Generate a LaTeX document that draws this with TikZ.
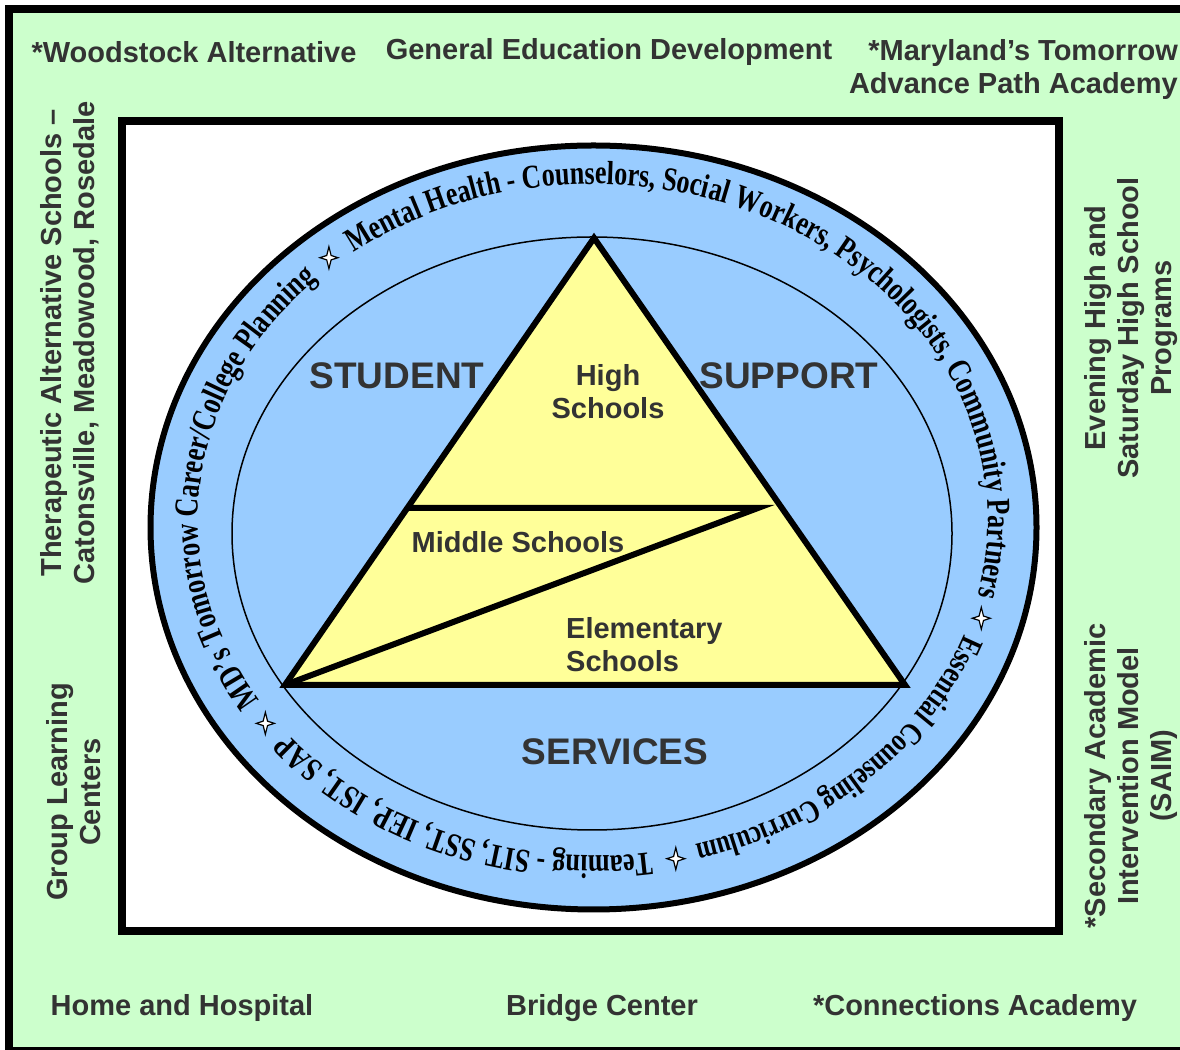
\documentclass[tikz,border=0pt]{standalone}
\usepackage{fontspec}
\setmainfont{Liberation Serif}
\setsansfont{Liberation Sans}
\newfontfamily\ringface[FakeStretch=0.78]{Liberation Serif}
\usepackage{tikz}
\usetikzlibrary{calc}
\usetikzlibrary{decorations.text}

\definecolor{outgreen}{HTML}{CCFFCC}
\definecolor{ringblue}{HTML}{99CCFF}
\definecolor{pyryellow}{HTML}{FFFF99}
\definecolor{labgray}{HTML}{333333}

\newcommand{\ringfont}{\ringface\bfseries\fontsize{33.5}{36}\selectfont}
\newcommand{\ringsmall}{\ringface\bfseries\fontsize{32}{36}\selectfont}

\begin{document}
\begin{tikzpicture}[x=1pt,y=1pt,
	lbl/.style={font=\sffamily\bfseries\fontsize{29}{33}\selectfont, text=labgray, align=center, inner sep=0pt},
	big/.style={font=\sffamily\bfseries\fontsize{37}{40}\selectfont, text=labgray, inner sep=0pt},
	tri/.style={line width=6pt},
	sparkle/.pic={\filldraw[fill=white, line width=1.2pt] (0,11) -- (2.2,2.2) -- (9,0) -- (2.2,-2.2) -- (0,-11) -- (-2.2,-2.2) -- (-9,0) -- (-2.2,2.2) -- cycle;}]
	\useasboundingbox (0,0) rectangle (1180,1049);
	\clip (0,0) rectangle (1180,1049);
	
	% green frame and white panel
	\draw[line width=8pt, fill=outgreen] (9,-2) rectangle (1190,1040);
	\draw[line width=8pt, fill=white] (122,118) rectangle (1059,928);
	
	% ring
	\coordinate (ring) at (593,529);
	\draw[line width=6pt, fill=ringblue] (593.5,521.5) ellipse [x radius=443pt, y radius=382pt];
	\draw[line width=1.5pt] (592,515.5) ellipse [x radius=360pt, y radius=296.5pt];
	
	% pyramid
	\coordinate (apex) at (594,811);
	\coordinate (bl) at (285,364);
	\coordinate (br) at (905,364);
	\coordinate (mr) at (758,541);
	\coordinate (ml) at ($(apex)!0.604!(bl)$);
	\filldraw[tri, fill=pyryellow] (apex) -- (br) -- (bl) -- cycle;
	\draw[tri] (ml) -- (mr) -- (bl);
	
	% text round the ring, clockwise
	\path[decorate, decoration={text along path, text align=center,
		text={|\ringfont|MD’s Tomorrow Career/College Planning}}]
		(ring) ++(214:395pt and 336pt) arc [start angle=214, end angle=132.7, x radius=395pt, y radius=336pt];
	\path[decorate, decoration={text along path, text align=center,
		text={|\ringfont|Mental Health - Counselors, Social Workers, Psychologists, Community Partners}}]
		(ring) ++(128.7:395pt and 336pt) arc [start angle=128.7, end angle=-14.5, x radius=395pt, y radius=336pt];
	\path[decorate, decoration={text along path, text align=center,
		text={|\ringsmall|Essential Counseling Curriculum}}]
		(ring) ++(-18.5:395pt and 336pt) arc [start angle=-18.5, end angle=-76.2, x radius=395pt, y radius=336pt];
	\path[decorate, decoration={text along path, text align=center,
		text={|\ringfont|Teaming - SIT, SST, IEP, IST, SAP}}]
		(ring) ++(-80.2:395pt and 336pt) arc [start angle=-80.2, end angle=-142, x radius=395pt, y radius=336pt];
	
	\path (ring) ++(216:405pt and 346pt) coordinate (s1);
	\path (ring) ++(130.7:405pt and 346pt) coordinate (s2);
	\path (ring) ++(-16.5:405pt and 346pt) coordinate (s3);
	\path (ring) ++(-78.2:405pt and 346pt) coordinate (s4);
	\foreach \s in {s1,s2,s3,s4}
		\pic at (\s) {sparkle};
	
	% inner labels
	\node[big] (student) at (397,673) {STUDENT};
	\node[big] (support) at (789,673) {SUPPORT};
	\node[big] (services) at (615,297) {SERVICES};
	\node[lbl] (high) at (608,657) {High\\Schools};
	\node[lbl] (middle) at (518,507) {Middle Schools};
	\node[lbl, anchor=west, align=left] (elementary) at (566,404) {Elementary\\Schools};
	
	% programs round the edge
	\node[lbl] (woodstock) at (194,997) {*Woodstock Alternative};
	\node[lbl] (ged) at (609,997) {General Education Development};
	\node[lbl, anchor=east, align=right] (maryland) at (1178,979.5) {*Maryland’s Tomorrow\\Advance Path Academy};
	\node[lbl, rotate=90] (therapeutic) at (70,706) {Therapeutic Alternative Schools –\\Catonsville, Meadowood, Rosedale};
	\node[lbl, rotate=90] (group) at (74,257) {Group Learning\\Centers};
	\node[lbl, rotate=90] (evening) at (1131,721) {Evening High and\\Saturday High School\\Programs};
	\node[lbl, rotate=90] (saim) at (1131,273) {*Secondary Academic\\Intervention Model\\(SAIM)};
	\node[lbl] (home) at (182,41) {Home and Hospital};
	\node[lbl] (bridge) at (602,41) {Bridge Center};
	\node[lbl] (connections) at (975,41) {*Connections Academy};
\end{tikzpicture}
\end{document}
